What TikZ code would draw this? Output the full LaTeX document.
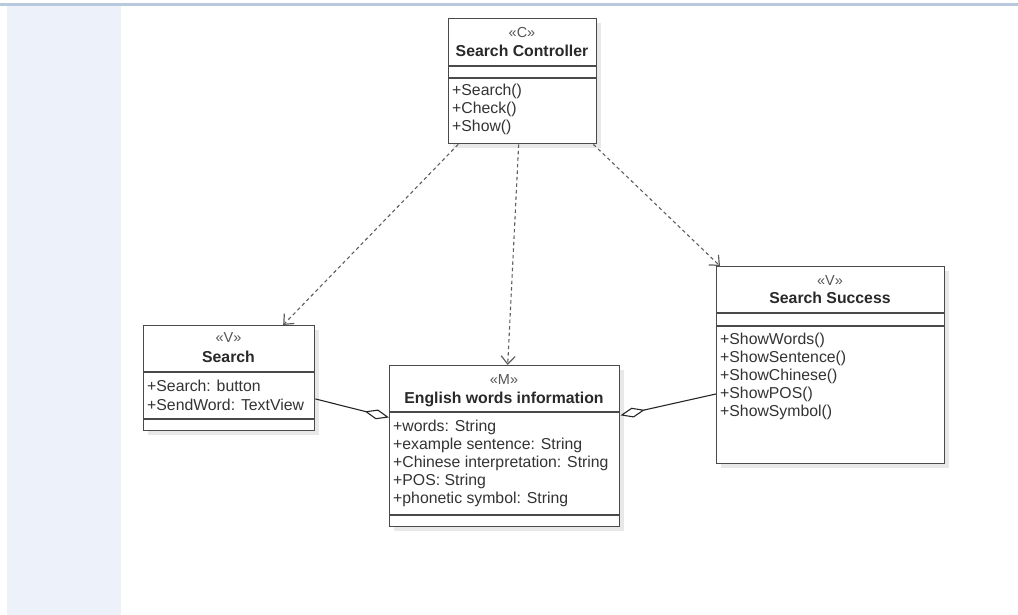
\documentclass[tikz,border=0pt]{standalone}
\usepackage{fontspec}
\setmainfont{Liberation Sans}
\usetikzlibrary{arrows.meta,calc,shadows}
\definecolor{boxline}{HTML}{4A4A4A}
\definecolor{txt}{HTML}{333333}
\definecolor{stereo}{HTML}{555555}
\definecolor{strip}{HTML}{EDF2FA}
\definecolor{topline}{HTML}{B9C9DD}
\definecolor{depline}{HTML}{5E5E5E}
\tikzset{
  cls/.style={draw=boxline, line width=1.4pt, fill=white, rectangle, inner sep=0pt,
    anchor=north west, drop shadow={shadow xshift=4pt, shadow yshift=-4pt, fill=black!9, opacity=1}},
  sep/.style={draw=boxline, line width=1.4pt},
  ster/.style={font=\fontsize{14.5}{16}\selectfont, text=stereo, inner sep=0pt, anchor=base},
  ttl/.style={font=\fontsize{15.8}{18}\selectfont\bfseries, text=txt!80!black, inner sep=0pt, anchor=base},
  mem/.style={font=\fontsize{15.8}{18}\selectfont, text=txt, inner sep=0pt, anchor=base west},
  dep/.style={draw=depline, line width=1.1pt, dash pattern=on 3.5pt off 3pt, -{Straight Barb[length=8pt,width=14pt,line width=1.2pt]}},
  agg/.style={draw=black!85, line width=1.1pt, -{Diamond[open,length=25pt,width=10pt,line width=1.1pt]}},
}
\begin{document}
\begin{tikzpicture}[x=1pt,y=-1pt]
\useasboundingbox (0,0) rectangle (1018,615);
\fill[strip] (7,6) rectangle (121,615);
\fill[topline] (0,3.3) rectangle (1018,6);

% Search Controller
\node[cls, minimum width=148pt, minimum height=125pt] (ctrl) at (448,18) {};
\draw[sep] (448,66) -- (596,66);
\draw[sep] (448,78) -- (596,78);
\node[ster] (ctrlS) at (522,38) {«C»};
\node[ttl] (ctrlT) at (522,57) {Search Controller};
\node[mem] (ctrl1) at (452,96) {+Search()};
\node[mem] (ctrl2) at (452,114) {+Check()};
\node[mem] (ctrl3) at (452,132) {+Show()};

% Search
\node[cls, minimum width=171pt, minimum height=105pt] (srch) at (143,325) {};
\draw[sep] (143,372) -- (314,372);
\draw[sep] (143,419) -- (314,419);
\node[ster] (srchS) at (228.5,342) {«V»};
\node[ttl] (srchT) at (228.5,362) {Search};
\node[mem] (srch1) at (147,391) {+Search: button};
\node[mem] (srch2) at (147,410) {+SendWord: TextView};

% English words information
\node[cls, minimum width=230pt, minimum height=161pt] (eng) at (389,365) {};
\draw[sep] (389,412) -- (619,412);
\draw[sep] (389,515) -- (619,515);
\node[ster] (engS) at (504,384) {«M»};
\node[ttl] (engT) at (504,403) {English words information};
\node[mem] (eng1) at (393,431) {+words: String};
\node[mem] (eng2) at (393,449) {+example sentence: String};
\node[mem] (eng3) at (393,467) {+Chinese interpretation: String};
\node[mem] (eng4) at (393,485) {+POS: String};
\node[mem] (eng5) at (393,503) {+phonetic symbol: String};

% Search Success
\node[cls, minimum width=228pt, minimum height=197pt] (succ) at (716,266) {};
\draw[sep] (716,313) -- (944,313);
\draw[sep] (716,326) -- (944,326);
\node[ster] (succS) at (830,285) {«V»};
\node[ttl] (succT) at (830,303) {Search Success};
\node[mem] (succ1) at (720,344) {+ShowWords()};
\node[mem] (succ2) at (720,362) {+ShowSentence()};
\node[mem] (succ3) at (720,380) {+ShowChinese()};
\node[mem] (succ4) at (720,398) {+ShowPOS()};
\node[mem] (succ5) at (720,416) {+ShowSymbol()};

% dependencies
\draw[dep] ($(ctrl.south west)!0.068!(ctrl.south east)$) -- ($(srch.north west)!0.813!(srch.north east)$);
\draw[dep] ($(ctrl.south west)!0.473!(ctrl.south east)$) -- ($(eng.north west)!0.513!(eng.north east)$);
\draw[dep] ($(ctrl.south west)!0.973!(ctrl.south east)$) -- ($(succ.north west)!0.0175!(succ.north east)$);

% aggregations
\draw[agg] ($(srch.north east)!0.695!(srch.south east)$) -- ($(eng.north west)!0.323!(eng.south west)$);
\draw[agg] ($(succ.north west)!0.645!(succ.south west)$) -- ($(eng.north east)!0.31!(eng.south east)$);
\end{tikzpicture}
\end{document}
